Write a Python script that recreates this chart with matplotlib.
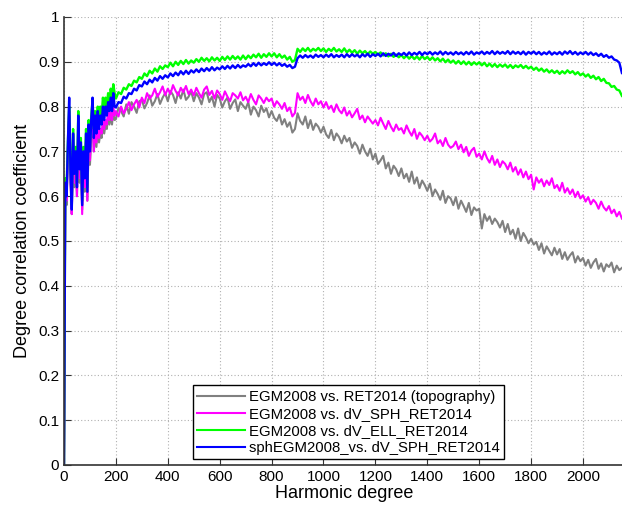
import matplotlib
matplotlib.use("Agg")
import matplotlib.pyplot as plt
from matplotlib.ticker import FormatStrFormatter

plt.rcParams['font.family'] = ['Liberation Sans', 'DejaVu Sans']

# harmonic degrees: step 5 up to 200, step 10 afterwards
degree = list(range(0, 200, 5)) + list(range(200, 2151, 10))

topo = [0.0, 0.61, 0.58, 0.69, 0.78, 0.63, 0.56, 0.71, 0.62, 0.67,
        0.60, 0.75, 0.63, 0.69, 0.57, 0.67, 0.61, 0.71, 0.59, 0.72,
        0.67, 0.73, 0.77, 0.70, 0.74, 0.71, 0.75, 0.72, 0.74, 0.73,
        0.76, 0.74, 0.76, 0.75, 0.78, 0.76, 0.78, 0.76, 0.79, 0.77,
        0.772, 0.798, 0.790, 0.778, 0.805, 0.784, 0.810, 0.800, 0.786, 0.812,
        0.815, 0.796, 0.808, 0.825, 0.802, 0.812, 0.828, 0.806, 0.820, 0.830,
        0.812, 0.835, 0.826, 0.808, 0.832, 0.818, 0.838, 0.815, 0.822, 0.834,
        0.812, 0.830, 0.820, 0.805, 0.828, 0.832, 0.810, 0.822, 0.800, 0.826,
        0.818, 0.798, 0.812, 0.820, 0.795, 0.808, 0.816, 0.790, 0.810, 0.802,
        0.795, 0.810, 0.782, 0.800, 0.792, 0.778, 0.802, 0.788, 0.796, 0.776,
        0.790, 0.775, 0.768, 0.782, 0.760, 0.772, 0.755, 0.765, 0.742, 0.750,
        0.785, 0.768, 0.760, 0.778, 0.752, 0.770, 0.748, 0.762, 0.755, 0.742,
        0.755, 0.738, 0.730, 0.748, 0.725, 0.740, 0.732, 0.718, 0.735, 0.722,
        0.730, 0.708, 0.720, 0.712, 0.695, 0.715, 0.700, 0.690, 0.706, 0.682,
        0.695, 0.672, 0.680, 0.690, 0.662, 0.675, 0.650, 0.668, 0.660, 0.645,
        0.662, 0.640, 0.650, 0.632, 0.655, 0.628, 0.642, 0.618, 0.635, 0.625,
        0.612, 0.628, 0.600, 0.615, 0.605, 0.592, 0.612, 0.585, 0.600, 0.595,
        0.580, 0.598, 0.572, 0.590, 0.578, 0.565, 0.585, 0.558, 0.575, 0.568,
        0.572, 0.528, 0.560, 0.545, 0.555, 0.538, 0.550, 0.542, 0.530, 0.545,
        0.520, 0.538, 0.515, 0.525, 0.505, 0.528, 0.500, 0.518, 0.508, 0.495,
        0.505, 0.492, 0.498, 0.480, 0.495, 0.472, 0.488, 0.478, 0.468, 0.485,
        0.470, 0.482, 0.460, 0.475, 0.458, 0.468, 0.475, 0.452, 0.466, 0.455,
        0.462, 0.445, 0.458, 0.440, 0.452, 0.460, 0.438, 0.450, 0.432, 0.448,
        0.442, 0.452, 0.430, 0.445, 0.435, 0.440]

dv_sph = [0.0, 0.62, 0.59, 0.70, 0.79, 0.64, 0.56, 0.72, 0.63, 0.68,
          0.60, 0.76, 0.64, 0.70, 0.56, 0.68, 0.62, 0.72, 0.59, 0.73,
          0.68, 0.74, 0.78, 0.70, 0.75, 0.72, 0.76, 0.73, 0.75, 0.74,
          0.77, 0.75, 0.77, 0.76, 0.79, 0.77, 0.79, 0.77, 0.80, 0.78,
          0.790, 0.778, 0.800, 0.785, 0.795, 0.810, 0.792, 0.805, 0.815, 0.798,
          0.820, 0.808, 0.830, 0.818, 0.825, 0.840, 0.822, 0.832, 0.845, 0.826,
          0.840, 0.828, 0.848, 0.835, 0.825, 0.842, 0.832, 0.846, 0.828, 0.838,
          0.825, 0.842, 0.830, 0.820, 0.838, 0.845, 0.826, 0.835, 0.818, 0.836,
          0.828, 0.815, 0.834, 0.822, 0.812, 0.830, 0.825, 0.818, 0.832, 0.814,
          0.822, 0.810, 0.828, 0.815, 0.805, 0.825, 0.818, 0.808, 0.820, 0.812,
          0.818, 0.800, 0.812, 0.805, 0.795, 0.808, 0.790, 0.798, 0.778, 0.786,
          0.830, 0.815, 0.822, 0.808, 0.826, 0.812, 0.802, 0.818, 0.805, 0.812,
          0.798, 0.810, 0.795, 0.802, 0.788, 0.805, 0.792, 0.785, 0.798, 0.780,
          0.790, 0.776, 0.785, 0.795, 0.772, 0.780, 0.765, 0.778, 0.770, 0.762,
          0.770, 0.758, 0.775, 0.762, 0.750, 0.768, 0.755, 0.745, 0.760, 0.748,
          0.752, 0.740, 0.758, 0.745, 0.735, 0.750, 0.728, 0.742, 0.735, 0.725,
          0.735, 0.722, 0.728, 0.740, 0.718, 0.725, 0.712, 0.730, 0.715, 0.708,
          0.712, 0.722, 0.705, 0.715, 0.698, 0.710, 0.690, 0.702, 0.708, 0.688,
          0.695, 0.682, 0.700, 0.685, 0.675, 0.690, 0.670, 0.682, 0.665, 0.678,
          0.672, 0.660, 0.675, 0.655, 0.665, 0.648, 0.660, 0.642, 0.655, 0.638,
          0.648, 0.615, 0.642, 0.630, 0.638, 0.622, 0.635, 0.625, 0.640, 0.618,
          0.625, 0.612, 0.630, 0.608, 0.618, 0.605, 0.615, 0.598, 0.610, 0.595,
          0.602, 0.588, 0.598, 0.582, 0.592, 0.585, 0.572, 0.588, 0.575, 0.568,
          0.578, 0.562, 0.570, 0.555, 0.565, 0.550]

dv_ell = [0.0, 0.64, 0.62, 0.72, 0.80, 0.67, 0.58, 0.75, 0.66, 0.71,
          0.63, 0.79, 0.67, 0.73, 0.59, 0.71, 0.65, 0.75, 0.62, 0.77,
          0.71, 0.78, 0.81, 0.75, 0.79, 0.76, 0.80, 0.77, 0.80, 0.78,
          0.82, 0.79, 0.82, 0.80, 0.83, 0.81, 0.84, 0.82, 0.85, 0.83,
          0.818, 0.832, 0.828, 0.842, 0.838, 0.850, 0.846, 0.858, 0.854, 0.866,
          0.862, 0.874, 0.868, 0.880, 0.874, 0.885, 0.878, 0.890, 0.884, 0.892,
          0.888, 0.898, 0.890, 0.900, 0.893, 0.902, 0.895, 0.904, 0.896, 0.903,
          0.898, 0.906, 0.900, 0.909, 0.902, 0.908, 0.901, 0.910, 0.903, 0.909,
          0.902, 0.911, 0.904, 0.912, 0.905, 0.913, 0.906, 0.912, 0.905, 0.914,
          0.906, 0.914, 0.908, 0.916, 0.910, 0.918, 0.909, 0.917, 0.911, 0.919,
          0.912, 0.919, 0.910, 0.917, 0.909, 0.914, 0.905, 0.911, 0.900, 0.904,
          0.929, 0.922, 0.930, 0.924, 0.931, 0.923, 0.929, 0.925, 0.931, 0.924,
          0.930, 0.922, 0.929, 0.924, 0.931, 0.923, 0.928, 0.922, 0.930, 0.921,
          0.927, 0.920, 0.926, 0.918, 0.925, 0.919, 0.924, 0.917, 0.923, 0.918,
          0.922, 0.916, 0.921, 0.914, 0.919, 0.912, 0.918, 0.911, 0.916, 0.910,
          0.915, 0.908, 0.914, 0.907, 0.913, 0.906, 0.912, 0.905, 0.913, 0.906,
          0.911, 0.904, 0.910, 0.903, 0.908, 0.901, 0.907, 0.899, 0.905, 0.898,
          0.903, 0.896, 0.902, 0.895, 0.901, 0.894, 0.900, 0.893, 0.899, 0.894,
          0.899, 0.892, 0.898, 0.890, 0.896, 0.889, 0.895, 0.888, 0.894, 0.889,
          0.894, 0.887, 0.893, 0.886, 0.892, 0.888, 0.893, 0.886, 0.891, 0.885,
          0.889, 0.882, 0.887, 0.880, 0.885, 0.878, 0.883, 0.876, 0.881, 0.875,
          0.880, 0.873, 0.879, 0.874, 0.881, 0.875, 0.879, 0.872, 0.877, 0.870,
          0.874, 0.867, 0.872, 0.864, 0.869, 0.861, 0.866, 0.857, 0.862, 0.853,
          0.852, 0.844, 0.846, 0.838, 0.836, 0.824]

sph_egm = [0.0, 0.63, 0.60, 0.72, 0.82, 0.66, 0.57, 0.74, 0.65, 0.70,
           0.62, 0.78, 0.66, 0.72, 0.58, 0.70, 0.64, 0.74, 0.61, 0.76,
           0.70, 0.77, 0.82, 0.73, 0.78, 0.74, 0.79, 0.75, 0.78, 0.76,
           0.80, 0.77, 0.80, 0.78, 0.81, 0.79, 0.82, 0.79, 0.83, 0.80,
           0.798, 0.810, 0.808, 0.822, 0.818, 0.830, 0.828, 0.840, 0.836, 0.848,
           0.845, 0.856, 0.850, 0.860, 0.854, 0.864, 0.858, 0.868, 0.862, 0.870,
           0.865, 0.874, 0.868, 0.876, 0.870, 0.879, 0.872, 0.880, 0.873, 0.881,
           0.876, 0.883, 0.877, 0.885, 0.879, 0.886, 0.880, 0.888, 0.881, 0.887,
           0.883, 0.890, 0.884, 0.891, 0.885, 0.892, 0.886, 0.893, 0.887, 0.892,
           0.889, 0.895, 0.890, 0.897, 0.891, 0.898, 0.892, 0.897, 0.893, 0.899,
           0.893, 0.898, 0.892, 0.897, 0.891, 0.895, 0.889, 0.893, 0.886, 0.889,
           0.908, 0.914, 0.909, 0.915, 0.910, 0.914, 0.909, 0.916, 0.911, 0.915,
           0.910, 0.916, 0.911, 0.917, 0.910, 0.915, 0.911, 0.916, 0.910, 0.917,
           0.911, 0.917, 0.912, 0.916, 0.910, 0.917, 0.912, 0.918, 0.911, 0.917,
           0.913, 0.918, 0.912, 0.919, 0.913, 0.918, 0.914, 0.920, 0.913, 0.919,
           0.915, 0.920, 0.914, 0.921, 0.915, 0.920, 0.916, 0.922, 0.915, 0.921,
           0.917, 0.922, 0.916, 0.921, 0.917, 0.923, 0.916, 0.922, 0.917, 0.921,
           0.916, 0.922, 0.917, 0.921, 0.916, 0.922, 0.917, 0.923, 0.916, 0.921,
           0.918, 0.923, 0.917, 0.922, 0.918, 0.924, 0.917, 0.923, 0.918, 0.922,
           0.918, 0.924, 0.917, 0.923, 0.918, 0.922, 0.917, 0.923, 0.916, 0.922,
           0.918, 0.923, 0.917, 0.922, 0.916, 0.921, 0.917, 0.923, 0.916, 0.921,
           0.917, 0.922, 0.916, 0.923, 0.918, 0.924, 0.917, 0.922, 0.916, 0.921,
           0.917, 0.922, 0.916, 0.921, 0.915, 0.919, 0.913, 0.918, 0.911, 0.915,
           0.909, 0.912, 0.905, 0.903, 0.898, 0.875]

labels = ["EGM2008 vs. RET2014 (topography)",
          "EGM2008 vs. dV_SPH_RET2014",
          "EGM2008 vs. dV_ELL_RET2014",
          "sphEGM2008_vs. dV_SPH_RET2014"]
colors = ["#808080", "#ff00ff", "#00ff00", "#0000ff"]
widths = [1.5, 1.5, 1.7, 1.7]

fig = plt.figure(figsize=(6.22, 5.09), dpi=100)
ax = fig.add_axes([64 / 622, 44 / 509, 560 / 622, 448 / 509])

for y, lab, c, w in zip([topo, dv_sph, dv_ell, sph_egm], labels, colors, widths):
    ax.plot(degree, y, color=c, lw=w, label=lab)

ax.set_xlim(0, 2158)
ax.set_ylim(0, 1)
ax.set_xticks(range(0, 2001, 200))
ax.set_yticks([i / 10 for i in range(11)])
ax.yaxis.set_major_formatter(FormatStrFormatter('%g'))

# matlab-like look: dotted grid, inward ticks, no top/right box
ax.grid(True, color="#b0b0b0", linestyle=(0, (1, 2)), lw=0.8)
ax.set_axisbelow(True)
for s in ['top', 'right']:
    ax.spines[s].set_visible(False)
for s in ['left', 'bottom']:
    ax.spines[s].set_color('#333333')
    ax.spines[s].set_linewidth(1.2)
ax.tick_params(direction='in', length=5, labelsize=11, colors='#333333',
               labelcolor='black')

ax.set_xlabel("Harmonic degree", fontsize=13, labelpad=1)
ax.set_ylabel("Degree correlation coefficient", fontsize=13, labelpad=5)

leg = ax.legend(loc='lower left', bbox_to_anchor=(0.230, 0.013),
                fontsize=10.7, fancybox=False, edgecolor='black',
                framealpha=1, borderaxespad=0, handlelength=3.2,
                labelspacing=0.2, borderpad=0.3, handletextpad=0.3)
leg.get_frame().set_linewidth(1.0)
for h in leg.get_lines():
    h.set_linewidth(1.5)

plt.savefig("out.png", dpi=100)
